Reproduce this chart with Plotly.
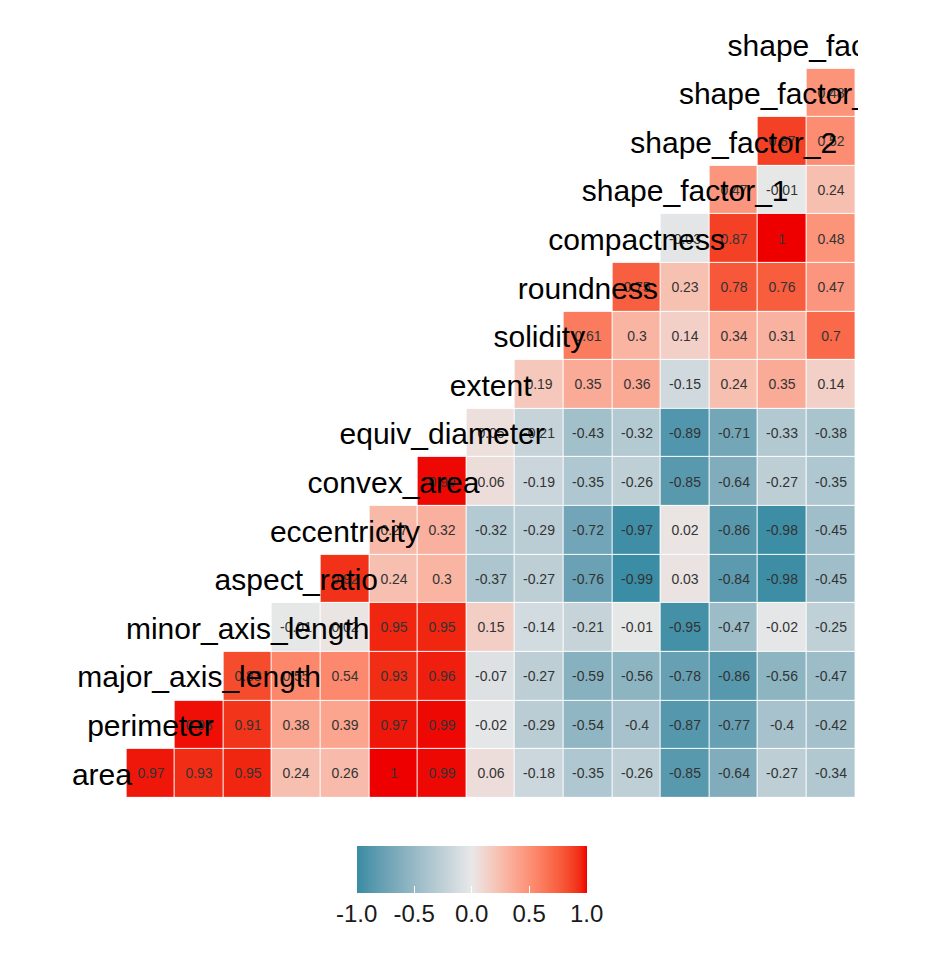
import numpy as np
import plotly.graph_objects as go

variables = ["area", "perimeter", "major_axis_length", "minor_axis_length",
             "aspect_ratio", "eccentricity", "convex_area", "equiv_diameter",
             "extent", "solidity", "roundness", "compactness",
             "shape_factor_1", "shape_factor_2", "shape_factor_3", "shape_factor_4"]

# correlations of each variable with the ones after it
r_area = [0.97, 0.93, 0.95, 0.24, 0.26, 1, 0.99, 0.06, -0.18, -0.35, -0.26, -0.85, -0.64, -0.27, -0.34]
r_perimeter = [0.98, 0.91, 0.38, 0.39, 0.97, 0.99, -0.02, -0.29, -0.54, -0.4, -0.87, -0.77, -0.4, -0.42]
r_major = [0.83, 0.55, 0.54, 0.93, 0.96, -0.07, -0.27, -0.59, -0.56, -0.78, -0.86, -0.56, -0.47]
r_minor = [-0.01, 0.02, 0.95, 0.95, 0.15, -0.14, -0.21, -0.01, -0.95, -0.47, -0.02, -0.25]
r_aspect = [0.92, 0.24, 0.3, -0.37, -0.27, -0.76, -0.99, 0.03, -0.84, -0.98, -0.45]
r_eccentricity = [0.27, 0.32, -0.32, -0.29, -0.72, -0.97, 0.02, -0.86, -0.98, -0.45]
r_convex = [0.99, 0.06, -0.19, -0.35, -0.26, -0.85, -0.64, -0.27, -0.35]
r_equiv = [0.05, -0.21, -0.43, -0.32, -0.89, -0.71, -0.33, -0.38]
r_extent = [0.19, 0.35, 0.36, -0.15, 0.24, 0.35, 0.14]
r_solidity = [0.61, 0.3, 0.14, 0.34, 0.31, 0.7]
r_roundness = [0.75, 0.23, 0.78, 0.76, 0.47]
r_compactness = [-0.03, 0.87, 1, 0.48]
r_sf1 = [0.47, -0.01, 0.24]
r_sf2 = [0.87, 0.52]
r_sf3 = [0.48]

rows = [r_area, r_perimeter, r_major, r_minor, r_aspect, r_eccentricity, r_convex,
        r_equiv, r_extent, r_solidity, r_roundness, r_compactness, r_sf1, r_sf2, r_sf3]

cbar_ticks = [-1, -0.5, 0, 0.5, 1]
cbar_labels = ["-1.0", "-0.5", "0.0", "0.5", "1.0"]

LOW, MID, HIGH = "#388CA4", "#E8E8E8", "#EE0000"


# ggplot's gradient2 interpolates in Lab space, so build the scale that way
def hex_to_lab(h):
    rgb = np.array([int(h[i:i + 2], 16) for i in (1, 3, 5)]) / 255.0
    lin = np.where(rgb <= 0.04045, rgb / 12.92, ((rgb + 0.055) / 1.055) ** 2.4)
    m = np.array([[0.4124, 0.3576, 0.1805], [0.2126, 0.7152, 0.0722], [0.0193, 0.1192, 0.9505]])
    xyz = m @ lin / np.array([0.95047, 1.0, 1.08883])
    f = np.where(xyz > 0.008856, np.cbrt(xyz), 7.787 * xyz + 16 / 116)
    return np.array([116 * f[1] - 16, 500 * (f[0] - f[1]), 200 * (f[1] - f[2])])


def lab_to_rgb(lab):
    fy = (lab[0] + 16) / 116
    fx = fy + lab[1] / 500
    fz = fy - lab[2] / 200
    f = np.array([fx, fy, fz])
    xyz = np.where(f ** 3 > 0.008856, f ** 3, (f - 16 / 116) / 7.787) * np.array([0.95047, 1.0, 1.08883])
    m = np.array([[3.2406, -1.5372, -0.4986], [-0.9689, 1.8758, 0.0415], [0.0557, -0.2040, 1.0570]])
    lin = np.clip(m @ xyz, 0, 1)
    rgb = np.where(lin <= 0.0031308, 12.92 * lin, 1.055 * lin ** (1 / 2.4) - 0.055)
    r, g, b = (np.clip(rgb, 0, 1) * 255).round().astype(int)
    return f"rgb({r},{g},{b})"


lab_low, lab_mid, lab_high = hex_to_lab(LOW), hex_to_lab(MID), hex_to_lab(HIGH)
colorscale = []
for t in np.linspace(0, 1, 41):
    if t <= 0.5:
        c = lab_low + (lab_mid - lab_low) * (t / 0.5)
    else:
        c = lab_mid + (lab_high - lab_mid) * ((t - 0.5) / 0.5)
    colorscale.append([float(t), lab_to_rgb(c)])

n = len(variables)
z = [[None] * n for _ in range(n)]
txt = [[""] * n for _ in range(n)]
for i, vals in enumerate(rows):
    for k, v in enumerate(vals):
        j = i + 1 + k
        z[i][j] = v
        txt[i][j] = f"{v:g}"

fig = go.Figure()
fig.add_trace(go.Heatmap(
    z=z, x=list(range(n)), y=list(range(n)), text=txt,
    texttemplate="%{text}", textfont=dict(size=14, color="#333333"),
    colorscale=colorscale, zmin=-1, zmax=1, xgap=1, ygap=1,
    hoverinfo="skip",
    colorbar=dict(orientation="h", x=0.534, xanchor="center", y=-0.058, yanchor="top",
                  len=230, lenmode="pixels", thickness=47, xpad=0, ypad=0,
                  outlinewidth=0, tickvals=cbar_ticks, ticktext=cbar_labels,
                  ticks="inside", ticklen=7, tickcolor="white", tickwidth=1,
                  tickfont=dict(size=24, color="#1a1a1a")),
))
# variable names sit on the (empty) diagonal, nudged down a touch like ggplot's text
fig.add_trace(go.Scatter(
    x=list(range(n)), y=[i - 0.08 for i in range(n)], mode="text", text=variables,
    textposition="middle center", textfont=dict(size=30, color="black"),
    cliponaxis=True, hoverinfo="skip", showlegend=False,
))

fig.update_xaxes(range=[-1.5, 15.557], visible=False)
fig.update_yaxes(range=[-0.55, 15.60], visible=False)
fig.update_layout(
    width=932, height=956, margin=dict(l=21, r=82, t=7, b=164),
    plot_bgcolor="white", paper_bgcolor="white",
    font=dict(family="Liberation Sans, Arial, sans-serif"),
    showlegend=False,
)
fig.write_html("out.html")
